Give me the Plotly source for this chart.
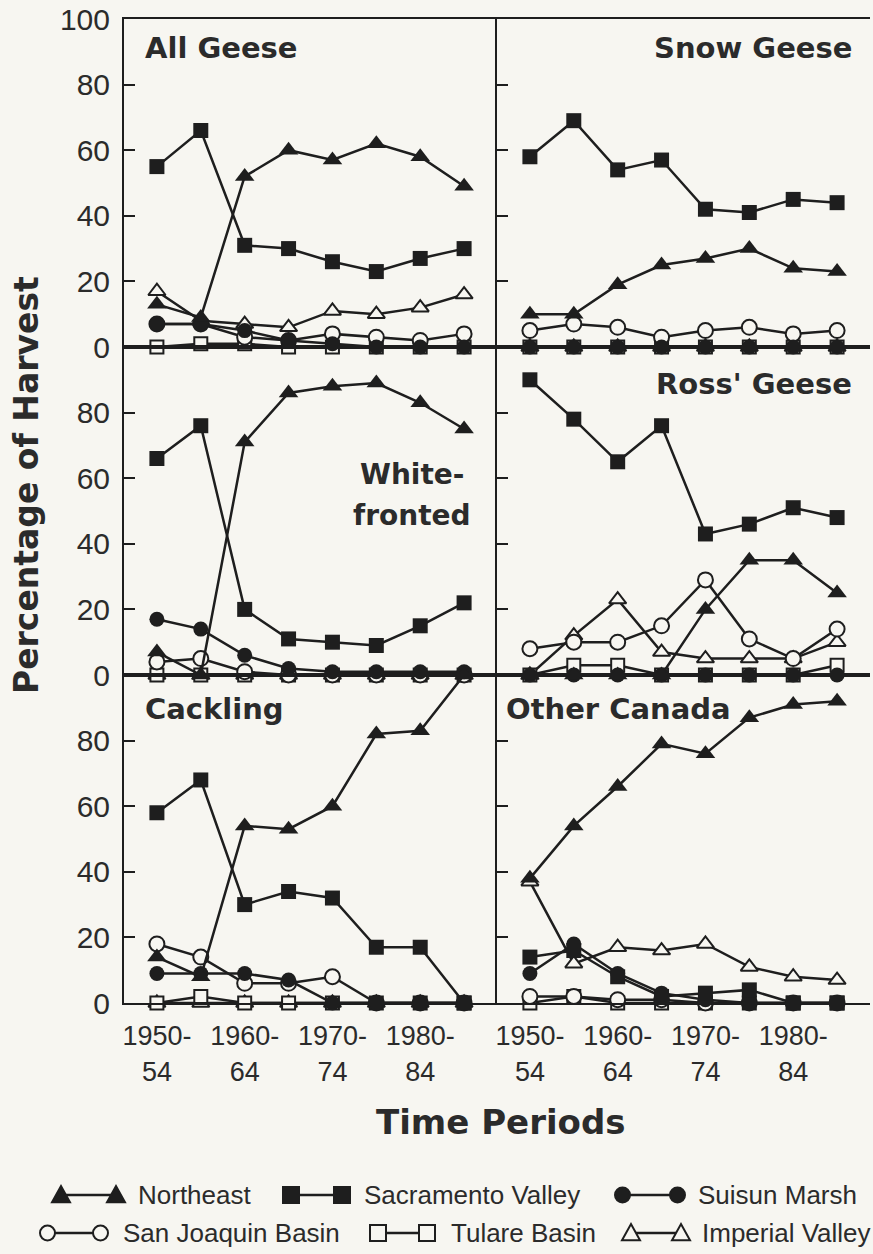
import plotly.graph_objects as go
from plotly.subplots import make_subplots

# ---------------- data ----------------
periods = ["1950-54", "1955-59", "1960-64", "1965-69", "1970-74", "1975-79", "1980-84", "1985-89"]
tick_periods = ["1950-54", "1960-64", "1970-74", "1980-84"]
tick_text = ["1950-<br>54", "1960-<br>64", "1970-<br>74", "1980-<br>84"]

regions = ["Imperial Valley", "Tulare Basin", "San Joaquin Basin", "Suisun Marsh", "Sacramento Valley", "Northeast"]

# All Geese
all_ne = [13, 9, 52, 60, 57, 62, 58, 49]
all_sac = [55, 66, 31, 30, 26, 23, 27, 30]
all_sui = [7, 7, 5, 2, 1, 0, 0, 0]
all_sj = [7, 7, 3, 2, 4, 3, 2, 4]
all_tul = [0, 1, 1, 0, 0, 0, 0, 0]
all_imp = [17, 8, 7, 6, 11, 10, 12, 16]

# Snow Geese
snow_ne = [10, 10, 19, 25, 27, 30, 24, 23]
snow_sac = [58, 69, 54, 57, 42, 41, 45, 44]
snow_sui = [0, 0, 0, 0, 0, 0, 0, 0]
snow_sj = [5, 7, 6, 3, 5, 6, 4, 5]
snow_tul = [0, 0, 0, 0, 0, 0, 0, 0]
snow_imp = [0, 0, 0, 0, 0, 0, 0, 0]

# White-fronted
wf_ne = [7, 0, 71, 86, 88, 89, 83, 75]
wf_sac = [66, 76, 20, 11, 10, 9, 15, 22]
wf_sui = [17, 14, 6, 2, 1, 1, 1, 1]
wf_sj = [4, 5, 1, 0, 0, 0, 0, 0]
wf_tul = [0, 0, 0, 0, 0, 0, 0, 0]
wf_imp = [0, 0, 0, 0, 0, 0, 0, 0]

# Ross' Geese
ross_ne = [0, 0, 0, 0, 20, 35, 35, 25]
ross_sac = [90, 78, 65, 76, 43, 46, 51, 48]
ross_sui = [0, 0, 0, 0, 0, 0, 0, 0]
ross_sj = [8, 10, 10, 15, 29, 11, 5, 14]
ross_tul = [0, 3, 3, 0, 0, 0, 0, 3]
ross_imp = [0, 12, 23, 7, 5, 5, 5, 10]

# Cackling
cack_ne = [14, 8, 54, 53, 60, 82, 83, 100]
cack_sac = [58, 68, 30, 34, 32, 17, 17, 0]
cack_sui = [9, 9, 9, 7, 0, 0, 0, 0]
cack_sj = [18, 14, 6, 6, 8, 0, 0, 0]
cack_tul = [0, 2, 0, 0, 0, 0, 0, 0]
cack_imp = [0, 0, 0, 0, 0, 0, 0, 0]

# Other Canada
oc_ne = [38, 54, 66, 79, 76, 87, 91, 92]
oc_sac = [14, 16, 8, 2, 3, 4, 0, 0]
oc_sui = [9, 18, 9, 3, 1, 0, 0, 0]
oc_sj = [2, 2, 1, 1, 0, 0, 0, 0]
oc_tul = [0, 2, 0, 0, 0, 0, 0, 0]
oc_imp = [37, 12, 17, 16, 18, 11, 8, 7]

panels = [
    (1, 1, [all_imp, all_tul, all_sj, all_sui, all_sac, all_ne]),
    (1, 2, [snow_imp, snow_tul, snow_sj, snow_sui, snow_sac, snow_ne]),
    (2, 1, [wf_imp, wf_tul, wf_sj, wf_sui, wf_sac, wf_ne]),
    (2, 2, [ross_imp, ross_tul, ross_sj, ross_sui, ross_sac, ross_ne]),
    (3, 1, [cack_imp, cack_tul, cack_sj, cack_sui, cack_sac, cack_ne]),
    (3, 2, [oc_imp, oc_tul, oc_sj, oc_sui, oc_sac, oc_ne]),
]

# ---------------- style ----------------
BG = "#f7f6f1"
INK = "#1e1e1e"
TXT = "#2b2b2b"
SANS = "Liberation Sans, Arial, sans-serif"
BOLD = "DejaVu Sans, Liberation Sans, Arial, sans-serif"

marker_styles = {
    "Imperial Valley": dict(symbol="triangle-up", size=15, color=BG, line=dict(color=INK, width=2)),
    "Tulare Basin": dict(symbol="square", size=13, color=BG, line=dict(color=INK, width=2)),
    "San Joaquin Basin": dict(symbol="circle", size=15, color=BG, line=dict(color=INK, width=2)),
    "Suisun Marsh": dict(symbol="circle", size=15, color=INK, line=dict(color=INK, width=0)),
    "Sacramento Valley": dict(symbol="square", size=15, color=INK, line=dict(color=INK, width=0)),
    "Northeast": dict(symbol="triangle-up", size=17, color=INK, line=dict(color=INK, width=0)),
}

W, H = 873, 1254
ML, MR, MT, MB = 124, 3, 19, 251
PW, PH = W - ML - MR, H - MT - MB


def px(xp):
    return (xp - ML) / PW


def py(yp):
    return (H - MB - yp) / PH


fig = make_subplots(rows=3, cols=2, horizontal_spacing=0, vertical_spacing=0)

for r, c, series in panels:
    for name, vals in zip(regions, series):
        fig.add_trace(
            go.Scatter(
                x=periods, y=vals, mode="lines+markers", name=name,
                line=dict(color=INK, width=2.5),
                marker=marker_styles[name],
                cliponaxis=False, showlegend=False,
            ),
            row=r, col=c,
        )

for r in (1, 2, 3):
    for c in (1, 2):
        fig.update_xaxes(
            type="category", categoryorder="array", categoryarray=periods,
            range=[-0.75, 7.75],
            showline=True, linecolor=INK, linewidth=2, mirror=True,
            showgrid=False, zeroline=False, ticks="",
            tickvals=tick_periods, ticktext=tick_text,
            showticklabels=(r == 3),
            tickfont=dict(family=SANS, size=27, color=TXT),
            ticklabelstandoff=8,
            row=r, col=c,
        )
        yt = [0, 20, 40, 60, 80, 100] if r == 1 else [0, 20, 40, 60, 80]
        fig.update_yaxes(
            range=[0, 100],
            showline=True, linecolor=INK, linewidth=2, mirror=False,
            showgrid=False, zeroline=False,
            ticks="inside", ticklen=11, tickwidth=2, tickcolor=INK,
            tickvals=yt, ticktext=[str(v) for v in yt],
            showticklabels=(c == 1),
            tickfont=dict(family=SANS, size=30, color=TXT),
            ticklabelstandoff=6,
            row=r, col=c,
        )

annotations = []


def add_text(text, xp, yp, size, xanchor="left", family=BOLD, angle=0):
    annotations.append(dict(
        text=text, x=px(xp), y=py(yp), xref="paper", yref="paper",
        xanchor=xanchor, yanchor="middle", showarrow=False, textangle=angle,
        font=dict(family=family, size=size, color=TXT),
    ))


# panel labels
add_text("<b>All Geese</b>", 143, 48, 29)
add_text("<b>Snow Geese</b>", 854, 48, 29, xanchor="right")
add_text("<b>White-</b>", 412, 474, 28, xanchor="center")
add_text("<b>fronted</b>", 412, 515, 28, xanchor="center")
add_text("<b>Ross' Geese</b>", 854, 384, 29, xanchor="right")
add_text("<b>Cackling</b>", 143, 709, 29)
add_text("<b>Other Canada</b>", 504, 709, 29)

# axis titles
add_text("<b>Percentage of Harvest</b>", 26, 485, 33, xanchor="center", angle=-90)
add_text("<b>Time Periods</b>", 501, 1122, 34, xanchor="center")

# legend
legend_rows = [
    ("Northeast", 52, 125, 136, 1195),
    ("Sacramento Valley", 283, 350, 362, 1195),
    ("Suisun Marsh", 615, 685, 696, 1195),
    ("San Joaquin Basin", 40, 108, 121, 1233),
    ("Tulare Basin", 370, 435, 449, 1233),
    ("Imperial Valley", 622, 690, 700, 1233),
]

shapes = []
for name, x0, x1, xt, yc in legend_rows:
    st = marker_styles[name]
    filled = st["color"] == INK
    fill = INK if filled else BG
    s = 9 if "triangle" in st["symbol"] else 8 if st["symbol"] == "square" else 7.5
    cx0, cx1 = x0 + s, x1 - s
    shapes.append(dict(type="line", xref="paper", yref="paper",
                       x0=px(cx0), x1=px(cx1), y0=py(yc), y1=py(yc),
                       line=dict(color=INK, width=2.5), layer="above"))
    for cx in (cx0, cx1):
        if st["symbol"] == "circle":
            shapes.append(dict(type="circle", xref="paper", yref="paper",
                               x0=px(cx - s), x1=px(cx + s), y0=py(yc + s), y1=py(yc - s),
                               fillcolor=fill, line=dict(color=INK, width=2), layer="above"))
        elif st["symbol"] == "square":
            shapes.append(dict(type="rect", xref="paper", yref="paper",
                               x0=px(cx - s), x1=px(cx + s), y0=py(yc + s), y1=py(yc - s),
                               fillcolor=fill, line=dict(color=INK, width=2), layer="above"))
        else:
            path = "M {a},{b} L {c},{d} L {e},{f} Z".format(
                a=px(cx - s), b=py(yc + s * 0.8),
                c=px(cx + s), d=py(yc + s * 0.8),
                e=px(cx), f=py(yc - s * 1.0))
            shapes.append(dict(type="path", xref="paper", yref="paper", path=path,
                               fillcolor=fill, line=dict(color=INK, width=2), layer="above"))
    add_text(name, xt, yc, 26, family=SANS)

fig.update_layout(
    width=W, height=H,
    margin=dict(l=ML, r=MR, t=MT, b=MB),
    paper_bgcolor=BG, plot_bgcolor=BG,
    showlegend=False,
    annotations=annotations,
    shapes=shapes,
)

fig.write_html(
    "out.html",
    config={"displayModeBar": False},
    post_script="document.body.style.margin='0';document.body.style.background='" + BG + "';",
)
